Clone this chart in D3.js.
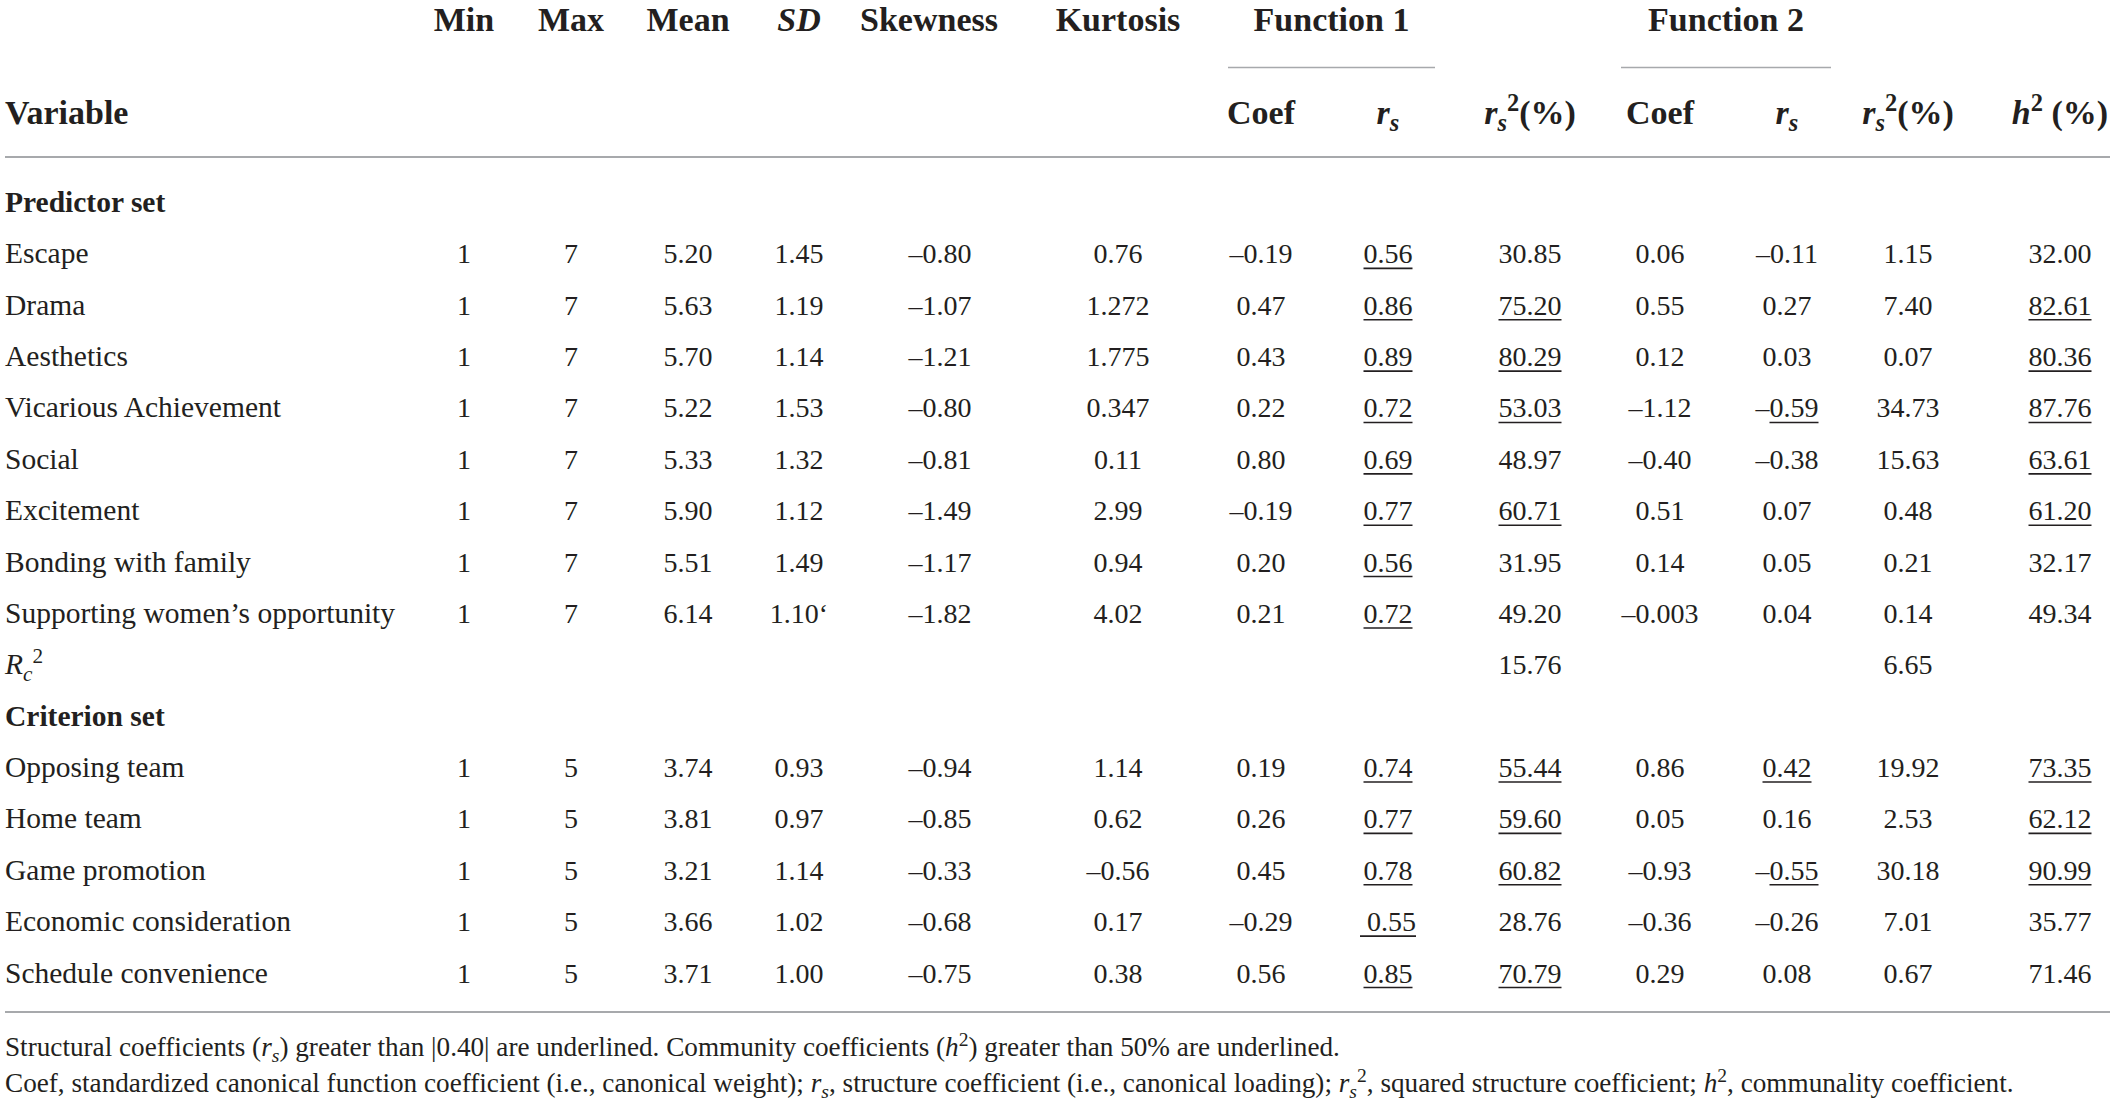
<!DOCTYPE html>
<html>
<head>
<meta charset="utf-8">
<script src="https://cdn.jsdelivr.net/npm/d3@7"></script>
<style>
  body { margin: 0; background: #fff; }
  svg { display: block; }
  text { font-family: "Liberation Serif", "Times New Roman", serif; fill: #231f20; white-space: pre; }
</style>
</head>
<body>
<div id="table"></div>
<script>
// table contents
const predictors = ["Escape", "Drama", "Aesthetics", "Vicarious Achievement", "Social", "Excitement",
  "Bonding with family", "Supporting women\u2019s opportunity"];
const criteria = ["Opposing team", "Home team", "Game promotion", "Economic consideration", "Schedule convenience"];

const mins  = ["1","1","1","1","1","1","1","1", "1","1","1","1","1"];
const maxs  = ["7","7","7","7","7","7","7","7", "5","5","5","5","5"];
const means = ["5.20","5.63","5.70","5.22","5.33","5.90","5.51","6.14", "3.74","3.81","3.21","3.66","3.71"];
const sds   = ["1.45","1.19","1.14","1.53","1.32","1.12","1.49","1.10\u2018", "0.93","0.97","1.14","1.02","1.00"];
const skews = ["–0.80","–1.07","–1.21","–0.80","–0.81","–1.49","–1.17","–1.82", "–0.94","–0.85","–0.33","–0.68","–0.75"];
const kurts = ["0.76","1.272","1.775","0.347","0.11","2.99","0.94","4.02", "1.14","0.62","–0.56","0.17","0.38"];
const coef1 = ["–0.19","0.47","0.43","0.22","0.80","–0.19","0.20","0.21", "0.19","0.26","0.45","–0.29","0.56"];
const rs1   = ["0.56","0.86","0.89","0.72","0.69","0.77","0.56","0.72", "0.74","0.77","0.78"," 0.55","0.85"];
const rsq1  = ["30.85","75.20","80.29","53.03","48.97","60.71","31.95","49.20", "55.44","59.60","60.82","28.76","70.79"];
const coef2 = ["0.06","0.55","0.12","–1.12","–0.40","0.51","0.14","–0.003", "0.86","0.05","–0.93","–0.36","0.29"];
const rs2   = ["–0.11","0.27","0.03","–0.59","–0.38","0.07","0.05","0.04", "0.42","0.16","–0.55","–0.26","0.08"];
const rsq2  = ["1.15","7.40","0.07","34.73","15.63","0.48","0.21","0.14", "19.92","2.53","30.18","7.01","0.67"];
const h2    = ["32.00","82.61","80.36","87.76","63.61","61.20","32.17","49.34", "73.35","62.12","90.99","35.77","71.46"];
const rc2   = { rsq1: "15.76", rsq2: "6.65" };

// indices (into the 13 variables) that are underlined, per column
const underlined = {
  rs1: [0,1,2,3,4,5,6,7,8,9,10,11,12],
  rsq1: [1,2,3,5,8,9,10,12],
  rs2: [3,8,10],
  h2: [1,2,3,4,5,8,9,10]
};

const columns = ["min","max","mean","sd","skew","kurt","coef1","rs1","rsq1","coef2","rs2","rsq2","h2"];
const columnValues = { min: mins, max: maxs, mean: means, sd: sds, skew: skews, kurt: kurts,
  coef1: coef1, rs1: rs1, rsq1: rsq1, coef2: coef2, rs2: rs2, rsq2: rsq2, h2: h2 };

const width = 2117, height = 1109;
const labelSize = 29.5, numSize = 28, headSize = 34, noteSize = 27.2;

const svg = d3.select("#table").append("svg")
  .attr("width", width)
  .attr("height", height);

const x = d3.scaleOrdinal()
  .domain(columns)
  .range([464, 571, 688, 799, 940, 1118, 1261, 1388, 1530, 1660, 1787, 1908, 2060]);

// row centres: 0 = Predictor set ... 15 = Schedule convenience
const y = d3.scaleLinear().domain([0, 15]).range([202.5, 973]);
const base = i => y(i) + 9.5;

// rich text helper: segments {t, i, sub, sup}
function rich(g, segs, px, py, size, anchor, weight) {
  const t = g.append("text")
    .attr("x", px).attr("y", py)
    .attr("font-size", size)
    .attr("font-weight", weight || "normal")
    .attr("text-anchor", anchor || "middle");
  let shift = 0;
  segs.forEach(s => {
    if (typeof s === "string") s = { t: s };
    const want = s.sub ? size * 0.22 : s.sup ? -size * 0.38 : 0;
    const sp = t.append("tspan").text(s.t).attr("dy", want - shift);
    shift = want;
    if (s.i) sp.attr("font-style", "italic");
    if (s.sub || s.sup) sp.attr("font-size", size * 0.72);
  });
  return t;
}

// header
const head = svg.append("g");
const h1y = 31, h2y = 124;
const head1 = [["min", [{t:"Min"}]], ["max", [{t:"Max"}]], ["mean", [{t:"Mean"}]], ["sd", [{t:"SD", i:true}]],
  ["skew", [{t:"Skewness"}]], ["kurt", [{t:"Kurtosis"}]]];
head1.forEach(([k, segs]) => rich(head, segs, x(k) - (k === "skew" ? 11 : 0), h1y, headSize, "middle", "bold"));

const groups = [{ label: "Function 1", from: 1228, to: 1435 }, { label: "Function 2", from: 1621, to: 1831 }];
groups.forEach(gp => {
  rich(head, [gp.label], (gp.from + gp.to) / 2, h1y, headSize, "middle", "bold");
  head.append("line").attr("x1", gp.from).attr("x2", gp.to).attr("y1", 67.5).attr("y2", 67.5)
    .attr("stroke", "#a7a9ac").attr("stroke-width", 1.6);
});

rich(head, ["Variable"], 5, h2y, headSize, "start", "bold");
const rsSegs = [{t:"r", i:true}, {t:"s", i:true, sub:true}];
const rsqSegs = [{t:"r", i:true}, {t:"s", i:true, sub:true}, {t:"2", sup:true}, {t:"(%)"}];
[["coef1", ["Coef"]], ["rs1", rsSegs], ["rsq1", rsqSegs], ["coef2", ["Coef"]], ["rs2", rsSegs], ["rsq2", rsqSegs],
 ["h2", [{t:"h", i:true}, {t:"2", sup:true}, {t:" (%)"}]]]
  .forEach(([k, segs]) => rich(head, segs, x(k), h2y, headSize, "middle", "bold"));

// rules
const rule = (yy) => svg.append("line").attr("x1", 5).attr("x2", 2110).attr("y1", yy).attr("y2", yy)
  .attr("stroke", "#a7a9ac").attr("stroke-width", 2);
rule(157);
rule(1012);

// body
const body = svg.append("g");
rich(body, ["Predictor set"], 5, base(0), labelSize, "start", "bold");
rich(body, ["Criterion set"], 5, base(10), labelSize, "start", "bold");
rich(body, [{t:"R", i:true}, {t:"c", i:true, sub:true}, {t:"2", sup:true}], 5, base(9), labelSize, "start");

const variables = predictors.concat(criteria);
const rowOf = i => i < predictors.length ? i + 1 : i + 3;

variables.forEach((v, i) => {
  const r = rowOf(i);
  rich(body, [v], 5, base(r), labelSize, "start");
  columns.forEach(k => {
    const val = columnValues[k][i];
    const t = rich(body, [val], x(k), base(r), numSize, "middle");
    if (underlined[k] && underlined[k].includes(i)) {
      const node = t.node();
      const first = val.startsWith("–") ? 1 : 0;
      const x0 = node.getStartPositionOfChar(first).x;
      const x1 = node.getEndPositionOfChar(val.length - 1).x;
      body.append("line").attr("x1", x0).attr("x2", x1)
        .attr("y1", base(r) + 5).attr("y2", base(r) + 5)
        .attr("stroke", "#231f20").attr("stroke-width", 1.6);
    }
  });
});
rich(body, [rc2.rsq1], x("rsq1"), base(9), numSize, "middle");
rich(body, [rc2.rsq2], x("rsq2"), base(9), numSize, "middle");

// footnotes
const notes = svg.append("g");
rich(notes, ["Structural coefficients (", {t:"r", i:true}, {t:"s", i:true, sub:true},
  ") greater than |0.40| are underlined. Community coefficients (", {t:"h", i:true}, {t:"2", sup:true},
  ") greater than 50% are underlined."], 5, 1056, noteSize, "start");
rich(notes, ["Coef, standardized canonical function coefficient (i.e., canonical weight); ", {t:"r", i:true},
  {t:"s", i:true, sub:true}, ", structure coefficient (i.e., canonical loading); ", {t:"r", i:true},
  {t:"s", i:true, sub:true}, {t:"2", sup:true}, ", squared structure coefficient; ", {t:"h", i:true},
  {t:"2", sup:true}, ", communality coefficient."], 5, 1092, noteSize, "start");
</script>
</body>
</html>
